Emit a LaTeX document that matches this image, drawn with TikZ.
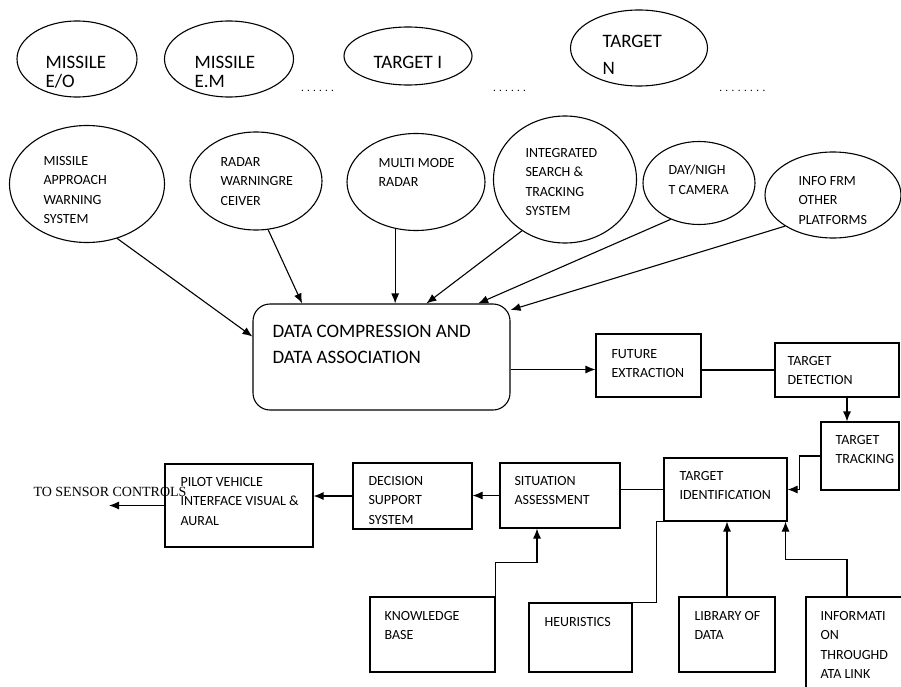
\documentclass[tikz,border=0pt]{standalone}
\usepackage{fontspec}
\setmainfont{Carlito}
\newfontfamily\serifrm{Liberation Serif}
\usetikzlibrary{shapes.geometric,arrows.meta}
\newcommand{\dotrow}[2]{\foreach \k in {1,...,#1}{\makebox[#2]{.}}}

\begin{document}
\begin{tikzpicture}[x=1pt, y=-1pt, line width=1.1pt,
    ell/.style={draw, ellipse, inner sep=0pt},
    blk/.style={draw, rectangle, inner sep=0pt},
    txt/.style={anchor=north west, inner sep=0pt, align=left, font=\fontsize{14}{19.5}\selectfont},
    bigtxt/.style={txt, font=\fontsize{19}{18.5}\selectfont},
    dots/.style={anchor=base west, inner sep=0pt, font=\fontsize{11}{11}\selectfont},
    arr/.style={-{Latex[length=10pt,width=8pt]}}]
        \clip (0,0) rectangle (901,687);

        % Draw threats
        \node[ell, minimum width=120pt, minimum height=76pt] (eo) at (77,59) {};
        \node[ell, minimum width=129pt, minimum height=76pt] (em) at (229,59) {};
        \node[ell, minimum width=128pt, minimum height=58pt] (tgi) at (408,56) {};
        \node[ell, minimum width=137pt, minimum height=76pt] (tgn) at (639,48) {};
        \node[bigtxt] (eo-t) at (45,56) {MISSILE\\E/O};
        \node[bigtxt] (em-t) at (194,56) {MISSILE\\E.M};
        \node[bigtxt] (tgi-t) at (373,56) {TARGET I};
        \node[bigtxt, font=\fontsize{19}{27}\selectfont] (tgn-t) at (602,35) {TARGET\\N};
        \node[dots] (d1) at (299,92) {\dotrow{6}{6pt}};
        \node[dots] (d2) at (491,92) {\dotrow{6}{6pt}};
        \node[dots] (d3) at (717,92) {\dotrow{8}{6.2pt}};

        % Draw sensors
        \node[ell, minimum width=155pt, minimum height=117pt] (maws) at (87,184) {};
        \node[ell, minimum width=132pt, minimum height=98pt] (rwr) at (256,181) {};
        \node[ell, minimum width=138pt, minimum height=97pt] (mmr) at (416,182) {};
        \node[ell, minimum width=143pt, minimum height=127pt] (ists) at (565,179.5) {};
        \node[ell, minimum width=112pt, minimum height=83pt] (dn) at (699,183) {};
        \node[ell, minimum width=136pt, minimum height=86pt] (info) at (833,195) {};
        \node[txt] (maws-t) at (43,155.5) {MISSILE\\APPROACH\\WARNING\\SYSTEM};
        \node[txt] (rwr-t) at (220,156.5) {RADAR\\WARNINGRE\\CEIVER};
        \node[txt] (mmr-t) at (378,157.5) {MULTI MODE\\RADAR};
        \node[txt] (ists-t) at (525,147.5) {INTEGRATED\\SEARCH \&\\TRACKING\\SYSTEM};
        \node[txt] (dn-t) at (668,164.5) {DAY/NIGH\\T CAMERA};
        \node[txt] (info-t) at (798,175.5) {INFO FRM\\OTHER\\PLATFORMS};

        % Draw processing blocks
        \node[blk, rounded corners=17pt, minimum width=257pt, minimum height=106pt] (dcda) at (381.5,357) {};
        \node[bigtxt, font=\fontsize{19}{26}\selectfont] (dcda-t) at (272,325) {DATA COMPRESSION AND\\DATA ASSOCIATION};
        \node[blk, minimum width=105pt, minimum height=63pt] (fe) at (648.5,365.5) {};
        \node[blk, minimum width=124pt, minimum height=54pt] (td) at (837,370) {};
        \node[blk, minimum width=78pt, minimum height=68pt] (tt) at (860,456) {};
        \node[blk, minimum width=123pt, minimum height=63pt] (ti) at (725.5,489.5) {};
        \node[blk, minimum width=120pt, minimum height=65pt] (sa) at (560,495.5) {};
        \node[blk, minimum width=119pt, minimum height=66pt] (dss) at (412.5,496) {};
        \node[blk, minimum width=148pt, minimum height=83pt] (pvi) at (239,505.5) {};
        \node[txt] (fe-t) at (611,348.5) {FUTURE\\EXTRACTION};
        \node[txt] (td-t) at (787,355.5) {TARGET\\DETECTION};
        \node[txt] (tt-t) at (835,434.5) {TARGET\\TRACKING};
        \node[txt] (ti-t) at (679,470.5) {TARGET\\IDENTIFICATION};
        \node[txt] (sa-t) at (514,475.5) {SITUATION\\ASSESSMENT};
        \node[txt] (dss-t) at (368,475.5) {DECISION\\SUPPORT\\SYSTEM};
        \node[txt] (pvi-t) at (180,476.5) {PILOT VEHICLE\\INTERFACE VISUAL \&\\AURAL};
        \node[anchor=north west, inner sep=0pt, font=\serifrm\fontsize{14}{16}\selectfont] (snsr-t) at (33,486.5) {TO SENSOR CONTROLS};
        \coordinate (snsr) at (109,505.5);

        % Draw knowledge sources
        \node[blk, minimum width=125pt, minimum height=75pt] (kb) at (432.5,634.5) {};
        \node[blk, minimum width=103pt, minimum height=69pt] (heur) at (580.5,637.5) {};
        \node[blk, minimum width=96pt, minimum height=75pt] (lib) at (727,634.5) {};
        \node[blk, minimum width=104pt, minimum height=103pt] (link) at (858,648.5) {};
        \node[txt] (kb-t) at (384,610.5) {KNOWLEDGE\\BASE};
        \node[txt] (heur-t) at (544,616.5) {HEURISTICS};
        \node[txt] (lib-t) at (694,610.5) {LIBRARY OF\\DATA};
        \node[txt] (link-t) at (820,610.5) {INFORMATI\\ON\\THROUGHD\\ATA LINK};

        % Draw edges
        \draw[arr] (maws.-61) -- (dcda.171.6);
        \draw[arr] (rwr.-76) -- (dcda.146.3);
        \draw[arr] (mmr.-114) -- (mmr.-114 |- dcda.north);
        \draw[arr] (ists.-130) -- (dcda.50.6);
        \draw[arr] (dn.-128.7) -- (dcda.29);
        \draw[arr] (info.-147) -- (dcda.20);

        \draw[arr] ([yshift=-4pt]fe.west -| dcda.east) -- ([yshift=-4pt]fe.west);
        \draw (fe.east |- td.west) -- (td.west);
        \draw[arr] ([xshift=10pt]td.south) -- ([xshift=10pt]td.south |- tt.north);
        \draw[arr] (tt.west) -- ++(-21,0) |- (ti.east);
        \draw (ti.west) -- (ti.west -| sa.east);
        \draw[arr] (sa.west) -- (sa.west -| dss.east);
        \draw[arr] (dss.west) -- (dss.west -| pvi.east);
        \draw[arr] (pvi.west) -- (snsr);

        \draw[arr] (kb.north east) -- ++(0,-34) -| ([xshift=-23pt]sa.south);
        \draw (heur.north east) -- ++(24,0) |- (ti.south west);
        \draw[arr] (lib.north) -- (lib.north |- ti.south);
        \draw[arr] ([xshift=-11pt]link.north) -- ++(0,-37) -| ([xshift=-2pt]ti.south east);
    \end{tikzpicture}
\end{document}
